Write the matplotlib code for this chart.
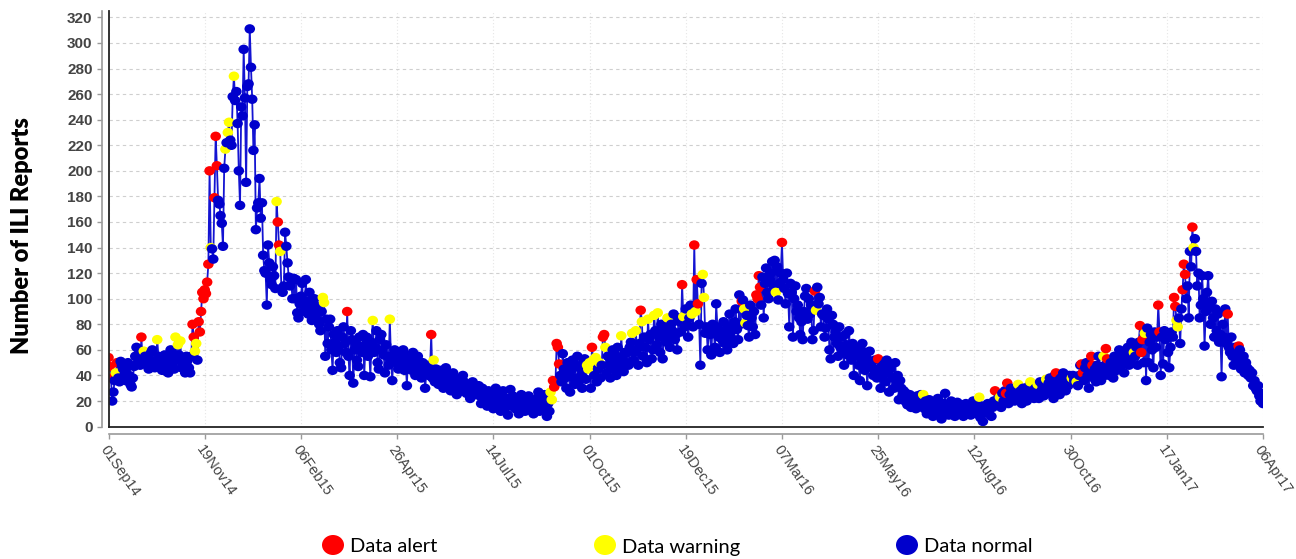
import numpy as np
import matplotlib
matplotlib.use('Agg')
import matplotlib.pyplot as plt
import matplotlib.dates as mdates
from matplotlib.patches import Ellipse
from matplotlib.path import Path
from matplotlib.transforms import Affine2D

# ---------------- data (daily ILI report counts) ----------------
start_date = '2014-09-01'
end_date = '2017-04-06'
tick_step_days = 79

sep14 = [54,47,38,20,27,36,42,50,38,35, 51,48,45,40,36,46,50,40,33,31, 38,47,55,62,50,60,48,70,52,59]
oct14 = [55,50,48,45,52,58,60,47,46,50, 68,55,50,46,44,52,56,48,43,42, 55,60,58,50,45,70,52,64,56,67, 46]
nov14 = [50,48,42,55,52,46,42,55,80,70, 59,65,52,82,74,90,105,100,107,104, 113,127,200,140,139,131,179,227,204,177]
dec14 = [174,165,159,141,202,217,222,230,238,224, 220,258,274,255,262,237,200,173,250,243, 295,257,191,266,268,311,281,256,216,236, 154]
jan15 = [171,175,194,163,175,134,122,120,95,142, 128,115,111,125,118,108,176,160,142,137, 108,105,110,152,141,128,117,110,115,100, 116]
feb15 = [100,115,89,85,96,102,112,95,90,115, 98,88,105,96,83,92,100,88,84,94, 80,75,90,101,97,55,84,65]
mar15 = [78,84,60,44,72,66,58,75,62,50, 46,70,78,65,58,90,55,40,75,68, 34,60,65,52,47,70,62,58,72,40, 64]
apr15 = [70,55,60,39,66,83,58,62,75,50, 45,68,72,60,56,42,64,55,48,84, 52,36,55,60,50,56,45,58,48,52]
may15 = [60,44,52,32,55,48,53,44,58,50, 40,47,55,42,48,38,50,45,30,42, 48,40,44,72,38,52,35,45,40,33, 42]
jun15 = [44,38,30,42,46,36,33,40,28,38, 42,35,32,25,37,30,34,28,40,35, 30,26,33,30,22,28,35,32,25,30]
jul15 = [27,32,24,18,30,22,26,20,16,28, 25,18,22,14,24,30,20,16,25,12, 22,28,18,15,22,9,20,29,16,24, 18]
aug15 = [14,22,18,10,20,25,15,18,12,21, 16,24,13,19,17,10,20,15,22,27, 12,18,20,14,25,16,8,18,12,27, 21]
sep15 = [36,31,34,65,62,49,40,35,57,45, 38,30,50,42,27,44,52,38,33,48, 55,35,46,40,30,50,53,37,48,45]
oct15 = [50,30,62,52,40,54,35,45,50,38, 48,70,72,62,42,55,48,38,52,60, 45,56,40,62,50,46,71,55,43,58, 50]
nov15 = [58,48,62,66,73,52,58,75,60,48, 65,91,82,55,70,62,50,84,68,72, 53,60,87,75,64,89,70,58,80,53]
dec15 = [74,78,66,85,70,62,80,75,88,68, 72,60,85,82,74,111,86,78,92,80, 70,85,95,88,78,142,90,115,96,80, 48]
jan16 = [112,119,101,73,78,60,75,72,56,80, 73,62,96,78,70,58,75,68,82,65, 72,60,78,88,70,75,65,82,92,76, 68]
feb16 = [103,80,98,99,92,81,87,79,70,95, 85,78,90,72,103,100,118,109,95,117, 85,112,124,105,100,115,120,129,110]
mar16 = [130,105,125,99,112,120,144,115,108,96, 120,104,78,112,105,70,100,110,90,95, 85,72,82,68,90,102,108,84,100,88, 95]
apr16 = [68,75,106,91,109,96,101,78,88,87, 70,77,92,84,60,53,87,80,70,74, 65,55,78,62,70,58,48,72,64,56]
may16 = [75,60,52,65,40,58,62,55,48,36, 60,65,50,44,55,32,48,59,50,46, 40,52,45,38,53,42,30,47,40,49, 35]
jun16 = [52,42,27,45,49,38,30,50,34,40, 21,36,30,24,28,20,26,17,22,25, 15,20,18,22,14,24,19,16,25,20]
jul16 = [25,14,20,10,16,21,12,18,8,15, 19,13,22,10,16,6,14,18,26,12, 15,9,17,20,12,14,8,16,19,11, 15]
aug16 = [12,17,8,14,18,10,13,16,9,15, 20,12,16,10,18,23,7,15,4,12, 14,14,18,10,16,8,15,20,28,20, 18]
sep16 = [22,23,15,26,20,28,26,34,18,25, 30,22,28,20,30,26,33,22,28,18, 30,24,30,20,27,32,35,25,28,22]
oct16 = [30,26,33,22,35,28,32,24,30,37, 26,34,38,28,35,22,40,42,30,36, 25,38,30,42,35,28,38,32,40,35, 38]
nov16 = [40,36,35,35,32,40,48,49,42,36, 46,50,40,30,44,55,48,38,45,35, 48,55,42,36,47,55,40,61,53,45]
dec16 = [40,50,46,38,55,48,44,52,60,45, 56,50,42,58,55,62,48,52,66,58, 58,55,62,48,66,79,58,68,50,73, 36]
jan17 = [77,50,66,72,60,46,74,62,70,95, 74,40,70,49,75,68,72,58,46,62, 74,70,101,94,83,78,85,65,92,107, 127]
feb17 = [119,100,110,85,137,125,156,140,147,137, 110,120,85,95,118,100,63,90,105,118, 95,80,98,85,70,92,75,88]
mar17 = [66,72,39,80,70,92,65,88,62,58, 70,55,48,62,50,56,63,60,45,52, 55,42,50,46,40,44,38,42,32,36, 30]
apr17 = [28,32,24,20,26,18]

# day indices (from start_date) flagged as alert / warning
alert_days = [0,1,2,7,27, 69,70,74,75,76,77,78,79,80,81,82,83,87,88,89, 139,140, 196, 265,
              365,366,367,368,369,370, 397,406,407, 437, 471, 481,483,484, 520, 532,533,534,535,
              553, 580, 632, 728, 737,738, 778, 799,800,807,808,819,820, 847,848,849, 862,863,
              875,876, 882,883,884, 890, 919, 928]
warning_days = [6,29, 40,55,57,59, 71,72,84, 96,98,99,103, 138,141, 176,177, 217,231, 267,
                363,364, 393,394, 395,398,400,403,408,421, 430,433,438,443,448,451, 459,472,479,482,
                488,489, 522,523, 548, 581, 669, 715, 732,747,757, 763,770,791, 795,817, 842,851,
                877,878, 891]

legend_labels = ['Data alert', 'Data warning', 'Data normal']
status_colors = {'alert': '#FF0000', 'warning': '#FFFF00', 'normal': '#0000CC'}

# ---------------- build series ----------------
months = [sep14, oct14, nov14, dec14, jan15, feb15, mar15, apr15, may15, jun15, jul15, aug15,
          sep15, oct15, nov15, dec15, jan16, feb16, mar16, apr16, may16, jun16, jul16, aug16,
          sep16, oct16, nov16, dec16, jan17, feb17, mar17, apr17]
values = np.array([v for m in months for v in m], dtype=float)
d0 = np.datetime64(start_date)
d1 = np.datetime64(end_date)
dates = d0 + np.arange(len(values))


def to_num(d):
    return mdates.date2num(np.datetime64(d, 'ms').astype(object))


xnum = np.array([to_num(d) for d in dates])

colors = [status_colors['normal']] * len(values)
for d in warning_days:
    if d < len(values):
        colors[d] = status_colors['warning']
for d in alert_days:
    if d < len(values):
        colors[d] = status_colors['alert']

# ---------------- figure ----------------
W, H = 1296, 559
fig = plt.figure(figsize=(W / 100, H / 100), dpi=100)
ax_l, ax_r, ax_b, ax_t = 108.5, 1263, 426.6, 11
ax = fig.add_axes([ax_l / W, 1 - ax_b / H, (ax_r - ax_l) / W, (ax_b - ax_t) / H])

ell = Path.unit_circle().transformed(Affine2D().scale(1.12, 1.0))
ax.plot(xnum, values, color='#1414D2', lw=1.3, zorder=3)
ax.scatter(xnum, values, c=colors, marker=ell, s=58, linewidths=0, zorder=4)

x0 = to_num(d0)
x1 = to_num(d1)
ax.set_xlim(x0, x1)
ax.set_ylim(0, 325)

ndays = int((d1 - d0).astype(int))
tick_dates = [d0 + np.timedelta64(k, 'D') for k in range(0, ndays + 1, tick_step_days)]
tick_nums = [to_num(t) for t in tick_dates]
tick_labels = [np.datetime64(t, 'ms').astype(object).strftime('%d%b%y') for t in tick_dates]
ax.set_xticks(tick_nums)
ax.set_xticklabels(tick_labels)
ax.set_yticks(np.arange(0, 321, 20))

ax.grid(axis='y', color='#CFCFCF', linestyle=(0, (3, 3)), lw=0.8, zorder=0)
ax.grid(axis='x', color='#E6E6E6', linestyle=(0, (1, 2)), lw=0.8, zorder=0)
ax.set_axisbelow(True)

for s in ['top', 'right']:
    ax.spines[s].set_visible(False)
for s in ['left', 'bottom']:
    ax.spines[s].set_position(('outward', 5))
    ax.spines[s].set_color('#9A9A9A')
    ax.spines[s].set_linewidth(1.2)
ax.tick_params(axis='both', colors='#9A9A9A', length=3.5, width=1)
ax.tick_params(axis='y', pad=3, labelcolor='#444444')
ax.tick_params(axis='x', pad=3, labelcolor='#444444')

for lab in ax.get_xticklabels():
    lab.set_rotation(-55)
    lab.set_rotation_mode('anchor')
    lab.set_ha('left')
    lab.set_va('top')
    lab.set_fontsize(10.5)
    lab.set_family('Liberation Sans')
    lab.set_color('#444444')
for lab in ax.get_yticklabels():
    lab.set_fontweight('bold')
    lab.set_fontsize(11)
    lab.set_color('#444444')
    lab.set_family('Liberation Sans')

# black plot-area border (left & bottom)
ax.axvline(x0, color='#222222', lw=1.3, zorder=5, clip_on=False)
ax.axhline(0, color='#222222', lw=1.3, zorder=5, clip_on=False)

fig.text(22 / W, 1 - 236 / H, 'Number of ILI Reports', rotation=90, ha='center', va='center',
         fontsize=17, fontweight='heavy', family='Lato', color='#000000')

# ---------------- legend ----------------
lg = fig.add_axes([0, 0, 1, 1], facecolor='none')
lg.set_xlim(0, W)
lg.set_ylim(H, 0)
lg.axis('off')
leg_x = [333, 605, 907]
leg_colors = [status_colors['alert'], status_colors['warning'], status_colors['normal']]
for lx, lc, lt in zip(leg_x, leg_colors, legend_labels):
    lg.add_patch(Ellipse((lx, 545), 22, 20, facecolor=lc, edgecolor='none'))
    lg.text(lx + 17, 547, lt, ha='left', va='center', fontsize=14.5, family='Lato', color='#000000')

fig.savefig('out.png', dpi=100)
